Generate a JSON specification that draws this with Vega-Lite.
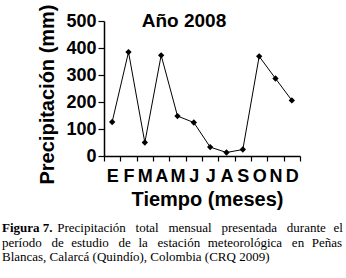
{
  "$schema": "https://vega.github.io/schema/vega-lite/v6.json",
  "background": "white",
  "padding": {"left": 1, "top": 3, "right": 0, "bottom": 0},
  "title": {
    "text": "Figura 7.",
    "subtitle": [
      "\u200b\u2003\u2003\u2003\u2003\u00a0Precipitación \u2002total \u2002mensual \u2002presentada \u2002durante \u2004el",
      "período \u2002de \u2004estudio \u2002de \u2004la \u2002estación \u2004meteorológica \u2002en \u2004Peñas",
      "Blancas, Calarcá (Quindío), Colombia (CRQ 2009)"
    ],
    "orient": "bottom",
    "anchor": "start",
    "frame": "bounds",
    "dx": -36,
    "offset": 13,
    "font": "Liberation Serif",
    "fontSize": 13,
    "fontWeight": "bold",
    "color": "black",
    "subtitleFont": "Liberation Serif",
    "subtitleFontSize": 13,
    "subtitleFontWeight": "normal",
    "subtitleColor": "black",
    "subtitlePadding": -13,
    "subtitleLineHeight": 14.5
  },
  "vconcat": [
    {
      "width": 196,
      "height": 135,
      "title": {
        "text": "Año 2008",
        "font": "Liberation Sans",
        "fontSize": 19,
        "fontWeight": "bold",
        "color": "black",
        "anchor": "middle",
        "frame": "group",
        "baseline": "alphabetic",
        "offset": -36,
        "dx": -18,
        "dy": 6
      },
      "data": {
        "values": [
          {"mes": "E", "precip": 126},
          {"mes": "F", "precip": 385},
          {"mes": "M", "precip": 50},
          {"mes": "A", "precip": 373},
          {"mes": "My", "precip": 148},
          {"mes": "Jn", "precip": 124},
          {"mes": "Jl", "precip": 33},
          {"mes": "Ag", "precip": 13},
          {"mes": "S", "precip": 24},
          {"mes": "O", "precip": 369},
          {"mes": "N", "precip": 287},
          {"mes": "D", "precip": 206}
        ]
      },
      "encoding": {
        "x": {
          "field": "mes",
          "type": "nominal",
          "sort": null,
          "scale": {"type": "band", "paddingInner": 0, "paddingOuter": 0},
          "axis": {
            "title": "Tiempo (meses)",
            "labelExpr": "datum.value ? substring(datum.value, 0, 1) : ''",
            "labelAngle": 0,
            "tickBand": "extent",
            "tickSize": 5,
            "labelPadding": 6,
            "titlePadding": 4,
            "titleX": 103
          }
        },
        "y": {
          "field": "precip",
          "type": "quantitative",
          "scale": {"domain": [0, 500], "nice": false},
          "axis": {
            "title": "Precipitación (mm)",
            "values": [0, 100, 200, 300, 400, 500],
            "tickSize": 6,
            "labelPadding": 2,
            "titlePadding": 8,
            "titleY": 73
          }
        }
      },
      "layer": [
        {"mark": {"type": "line", "color": "black", "strokeWidth": 1}},
        {"mark": {"type": "point", "shape": "diamond", "filled": true, "color": "black", "size": 40, "opacity": 1}}
      ]
    }
  ],
  "config": {
    "view": {"stroke": null},
    "axis": {
      "grid": false,
      "domainColor": "black",
      "domainWidth": 1.5,
      "tickColor": "black",
      "tickWidth": 1.2,
      "labelFont": "Liberation Sans",
      "labelFontSize": 18,
      "labelFontWeight": "bold",
      "labelColor": "black",
      "titleFont": "Liberation Sans",
      "titleFontSize": 20,
      "titleFontWeight": "bold",
      "titleColor": "black"
    }
  }
}
